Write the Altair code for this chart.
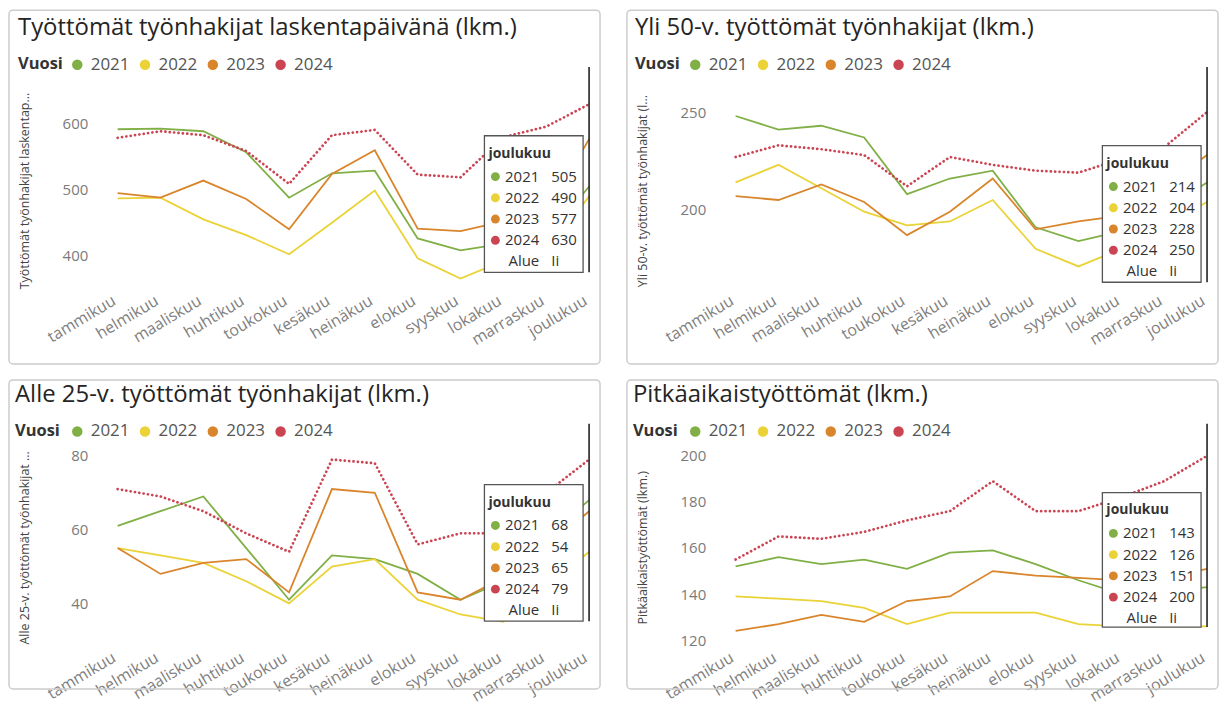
import altair as alt
import pandas as pd

months = ["tammikuu", "helmikuu", "maaliskuu", "huhtikuu", "toukokuu", "kesäkuu",
          "heinäkuu", "elokuu", "syyskuu", "lokakuu", "marraskuu", "joulukuu"]
years = ["2021", "2022", "2023", "2024"]
colors = ["#80AF46", "#EBD236", "#D9852B", "#CB4452"]

# Panel 1: Työttömät työnhakijat laskentapäivänä
p1_2021 = [592, 593, 589, 557, 488, 525, 529, 426, 408, 418, 425, 505]
p1_2022 = [487, 488, 455, 431, 402, 450, 499, 396, 365, 392, 405, 490]
p1_2023 = [495, 488, 514, 486, 440, 524, 560, 441, 437, 452, 465, 577]
p1_2024 = [579, 589, 583, 559, 509, 583, 591, 523, 519, 580, 596, 630]
# Panel 2: Yli 50-v.
p2_2021 = [248, 241, 243, 237, 208, 216, 220, 191, 184, 189, 200, 214]
p2_2022 = [214, 223, 211, 199, 192, 194, 205, 180, 171, 180, 192, 204]
p2_2023 = [207, 205, 213, 204, 187, 199, 216, 190, 194, 197, 212, 228]
p2_2024 = [227, 233, 231, 228, 212, 227, 223, 220, 219, 226, 232, 250]
# Panel 3: Alle 25-v.
p3_2021 = [61, 65, 69, 55, 41, 53, 52, 48, 41, 46, 58, 68]
p3_2022 = [55, 53, 51, 46, 40, 50, 52, 41, 37, 35, 44, 54]
p3_2023 = [55, 48, 51, 52, 43, 71, 70, 43, 41, 47, 55, 65]
p3_2024 = [71, 69, 65, 59, 54, 79, 78, 56, 59, 59, 70, 79]
# Panel 4: Pitkäaikaistyöttömät
p4_2021 = [152, 156, 153, 155, 151, 158, 159, 153, 146, 140, 141, 143]
p4_2022 = [139, 138, 137, 134, 127, 132, 132, 132, 127, 126, 126, 126]
p4_2023 = [124, 127, 131, 128, 137, 139, 150, 148, 147, 146, 147, 151]
p4_2024 = [155, 165, 164, 167, 172, 176, 189, 176, 176, 182, 189, 200]

titles = ["Työttömät työnhakijat laskentapäivänä (lkm.)",
          "Yli 50-v. työttömät työnhakijat (lkm.)",
          "Alle 25-v. työttömät työnhakijat (lkm.)",
          "Pitkäaikaistyöttömät (lkm.)"]
axis_titles = ["Työttömät työnhakijat laskentap...",
               "Yli 50-v. työttömät työnhakijat (l...",
               "Alle 25-v. työttömät työnhakijat ...",
               "Pitkäaikaistyöttömät (lkm.)"]
y_ticks = [[400, 500, 600], [200, 250], [40, 60, 80], [120, 140, 160, 180, 200]]
legend_title = "Vuosi"
tip_label = ["Alue", "Ii"]

FONT = "Open Sans"
W, H = 500, 225


def panel(vals, title, ytitle, ticks, dom, box_top, box_h, leg_c, title_x, title_y, top_row):
    df = pd.DataFrame({
        "kuukausi": months * 4,
        "Vuosi": [y for y in years for _ in months],
        "arvo": [v for s in vals for v in s],
    })
    one = pd.DataFrame({"kuukausi": [months[-1]]})
    single = pd.DataFrame({"a": [0]})
    base = alt.Chart(df)

    x = alt.X("kuukausi:N", sort=months,
              scale=alt.Scale(type="point", range=[18, 491], padding=0),
              axis=alt.Axis(title=None, labelAngle=-31, labelAlign="right", labelBaseline="top",
                            labelFontSize=16, labelColor="#808080", labelFont=FONT,
                            domain=False, ticks=False, grid=False, labelPadding=1, labelOffset=-8))
    y = alt.Y("arvo:Q",
              scale=alt.Scale(domain=dom, nice=False, zero=False),
              axis=alt.Axis(values=ticks, title=ytitle, titleFontSize=12.5, titleFontWeight="normal",
                            titleColor="#444", titleFont=FONT, titleX=-75, titleY=124, titleAngle=270,
                            titleAlign="center", titleBaseline="middle",
                            labelFontSize=15, labelColor="#7a7a7a", labelFont=FONT, labelPadding=12,
                            domain=False, ticks=False, grid=False))
    color = alt.Color("Vuosi:N", scale=alt.Scale(domain=years, range=colors),
                      legend=alt.Legend(title=None, orient="none", legendX=-31, legendY=leg_c - 8.5,
                                        direction="horizontal", padding=0, labelFont=FONT,
                                        labelFontSize=17, labelColor="#555", symbolType="circle",
                                        symbolSize=16, symbolStrokeWidth=6.5, labelOffset=5,
                                        columnPadding=0))

    border = alt.Chart(single).mark_rect(
        fill="transparent", stroke="#cccccc", strokeWidth=1.5, cornerRadius=4
    ).encode(x=alt.value(-91), x2=alt.value(502), y=alt.value(-57 if top_row else -44),
             y2=alt.value(298 if top_row else 266))

    ttl = alt.Chart(single).mark_text(
        align="left", baseline="alphabetic", fontSize=24, font=FONT, color="#252423"
    ).encode(x=alt.value(title_x), y=alt.value(title_y), text=alt.value(title))

    leg_t = alt.Chart(single).mark_text(
        align="left", baseline="middle", fontSize=16.5, fontWeight="bold", font=FONT, color="#333"
    ).encode(x=alt.value(title_x), y=alt.value(leg_c), text=alt.value(legend_title))

    solid = base.transform_filter(
        alt.FieldOneOfPredicate(field="Vuosi", oneOf=years[:3])
    ).mark_line(strokeWidth=1.8).encode(x=x, y=y, color=color)
    dotted = base.transform_filter(alt.datum.Vuosi == "2024").mark_line(
        strokeWidth=2.7, strokeDash=[0.1, 4.3], strokeCap="round"
    ).encode(x=x, y=y, color=color)

    rule = alt.Chart(one).mark_rule(color="#222", strokeWidth=1.6).encode(
        x=x, y=alt.value(0), y2=alt.value(box_top + box_h))

    box = alt.Chart(single).mark_rect(
        fill="white", stroke="#555", strokeWidth=1.3
    ).encode(x=alt.value(386), x2=alt.value(485), y=alt.value(box_top), y2=alt.value(box_top + box_h))

    header = alt.Chart(one).mark_text(
        align="left", baseline="middle", fontSize=14, fontWeight="bold", font=FONT, color="#333"
    ).encode(x=alt.value(390), y=alt.value(box_top + 18), text="kuukausi:N")

    tip = base.transform_filter(alt.datum.kuukausi == months[-1]).transform_window(
        rn="row_number()", sort=[alt.SortField("Vuosi")]
    ).transform_calculate(ty=f"{box_top + 41} + (datum.rn - 1) * 21.3")
    ty = alt.Y("ty:Q", scale=None, axis=None)
    dots = tip.mark_point(filled=True, size=80, opacity=1).encode(
        x=alt.value(397), y=ty,
        color=alt.Color("Vuosi:N", scale=alt.Scale(domain=years, range=colors), legend=None))
    yr = tip.mark_text(align="right", baseline="middle", fontSize=15, font=FONT, color="#333").encode(
        x=alt.value(441), y=ty, text="Vuosi:N")
    val = tip.mark_text(align="left", baseline="middle", fontSize=15, font=FONT, color="#333").encode(
        x=alt.value(453), y=ty, text=alt.Text("arvo:Q", format="d"))
    alue = alt.Chart(single).mark_text(
        align="right", baseline="middle", fontSize=15, font=FONT, color="#333"
    ).encode(x=alt.value(441), y=alt.value(box_top + 126), text=alt.value(tip_label[0]))
    ii = alt.Chart(single).mark_text(
        align="left", baseline="middle", fontSize=15, font=FONT, color="#333"
    ).encode(x=alt.value(453), y=alt.value(box_top + 126), text=alt.value(tip_label[1]))

    return alt.layer(border, ttl, leg_t, solid, dotted, rule, box, header, dots, yr, val, alue, ii
                     ).properties(width=W, height=H)


p1 = panel([p1_2021, p1_2022, p1_2023, p1_2024], titles[0], axis_titles[0], y_ticks[0],
           [345.8, 686.7], 69, 137, -2.5, -82, -32, True)
p2 = panel([p2_2021, p2_2022, p2_2023, p2_2024], titles[1], axis_titles[1], y_ticks[1],
           [158.3, 273.1], 79, 137, -2.5, -83, -32, True)
p3 = panel([p3_2021, p3_2022, p3_2023, p3_2024], titles[2], axis_titles[2], y_ticks[2],
           [27.9, 88.7], 61, 137, 7.5, -85, -22, False)
p4 = panel([p4_2021, p4_2022, p4_2023, p4_2024], titles[3], axis_titles[3], y_ticks[3],
           [116.6, 213.9], 69, 135, 7.5, -85, -22, False)

chart = alt.concat(p1, p2, p3, p4, columns=2, spacing={"row": 133, "column": 120},
                   bounds="flush").resolve_scale(color="independent").properties(padding=0).configure(
    font=FONT).configure_view(stroke=None)

chart.save("out.html", embed_options={"renderer": "svg", "actions": False})
